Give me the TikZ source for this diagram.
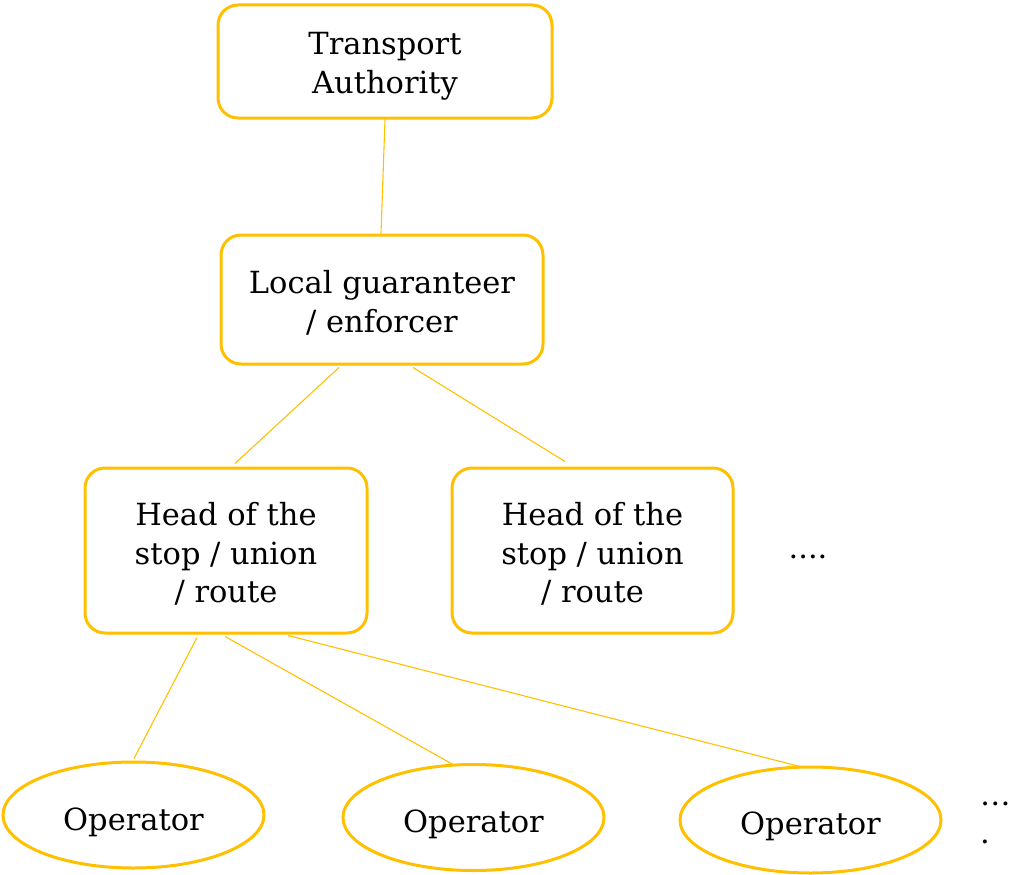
\documentclass[tikz,border=0pt]{standalone}
\usepackage{fontspec}
\setmainfont{DejaVu Serif}
\usetikzlibrary{shapes.geometric}
\definecolor{gold}{HTML}{FFC000}
\begin{document}
\begin{tikzpicture}[x=1pt,y=-1pt,
  txt/.style={font=\fontsize{30.5}{38.5}\selectfont, align=center, text=black},
  rbox/.style={draw=gold, line width=3pt, rounded corners=20pt, inner sep=0pt},
  oval/.style={draw=gold, line width=3pt, ellipse, inner sep=0pt,
    minimum width=261pt, minimum height=106pt},
  link/.style={draw=gold, line width=1.1pt}]
\useasboundingbox (0,0) rectangle (1010,875);

% boxes, each with its text set a little below the centre
\node[rbox, minimum width=334pt, minimum height=113pt,
  label={[txt, yshift=-5pt]center:{Transport\\Authority}}] (ta) at (385,61.5) {};
\node[rbox, minimum width=322pt, minimum height=129pt,
  label={[txt, yshift=-3.5pt]center:{Local guaranteer\\/ enforcer}}] (lg) at (382,299.5) {};
\node[rbox, minimum width=282pt, minimum height=165pt,
  label={[txt, yshift=-3.5pt]center:{Head of the\\stop / union\\/ route}}] (h1) at (226,550.5) {};
\node[rbox, minimum width=281pt, minimum height=165pt,
  label={[txt, yshift=-3.5pt]center:{Head of the\\stop / union\\/ route}}] (h2) at (592.5,550.5) {};
\node[txt] (more1) at (808,557) {....};

% operators
\node[oval, label={[txt, yshift=-7pt]center:Operator}] (op1) at (133.5,815) {};
\node[oval, label={[txt, yshift=-7pt]center:Operator}] (op2) at (473.5,817.5) {};
\node[oval, label={[txt, yshift=-6pt]center:Operator}] (op3) at (810.5,820) {};
\node[txt, align=left, anchor=west, inner sep=0pt] (more2) at (980,823) {…\\.};

% hierarchy links
\draw[link] (ta.south) -- ([xshift=-1pt]lg.north);
\draw[link] ([xshift=-43pt,yshift=-2pt]lg.south) -- ([xshift=9pt,yshift=3pt]h1.north);
\draw[link] ([xshift=31pt,yshift=-2pt]lg.south) -- ([xshift=-27.5pt,yshift=5pt]h2.north);
\draw[link] ([xshift=-29pt,yshift=-3pt]h1.south) -- ([xshift=0.5pt,yshift=2pt]op1.north);
\draw[link] ([xshift=-1pt,yshift=-2pt]h1.south) -- ([xshift=-20.5pt,yshift=-1.5pt]op2.north);
\draw[link] ([xshift=62pt,yshift=-1pt]h1.south) -- ([xshift=-10.5pt,yshift=-1pt]op3.north);
\end{tikzpicture}
\end{document}
